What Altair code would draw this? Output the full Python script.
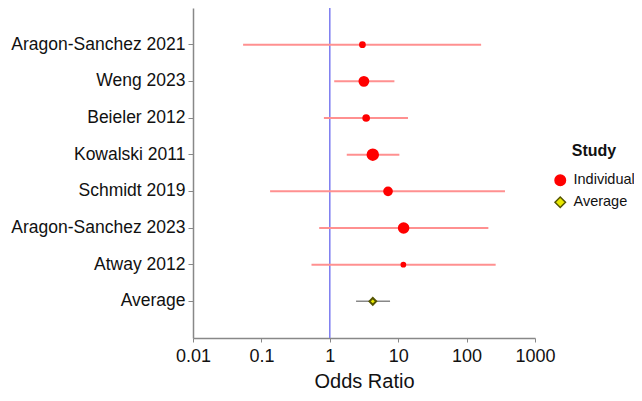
import altair as alt
import pandas as pd

studies = ["Aragon-Sanchez 2021", "Weng 2023", "Beieler 2012", "Kowalski 2011",
           "Schmidt 2019", "Aragon-Sanchez 2023", "Atway 2012", "Average"]
odds_ratio = [3.0, 3.15, 3.4, 4.25, 7.1, 12.0, 11.9, 4.25]
ci_low = [0.054, 1.16, 0.82, 1.77, 0.134, 0.70, 0.54, 2.42]
ci_high = [163, 8.8, 13.9, 10.4, 364, 208, 266, 7.6]
weight = [5, 17, 7, 24, 13, 20, 3, 10]
kind = ["Individual"] * 7 + ["Average"]
x_ticks = [0.01, 0.1, 1, 10, 100, 1000]
null_value = [1]

df = pd.DataFrame({"study": studies, "or": odds_ratio, "lo": ci_low,
                   "hi": ci_high, "weight": weight, "kind": kind})
ref = pd.DataFrame({"x": null_value})

FONT = "Liberation Sans"

xscale = alt.Scale(type="log", domain=[0.01, 1000], nice=False)
yenc = alt.Y("study:N", sort=studies,
             scale=alt.Scale(padding=1),
             axis=alt.Axis(title=None, labelFontSize=17.5, labelColor="#111111",
                           labelFont=FONT, tickSize=5, labelPadding=3,
                           domainColor="#888888", tickColor="#888888",
                           domainWidth=1.5, grid=False))

xaxis = alt.Axis(values=x_ticks, format="~g", title="Odds Ratio",
                 titleFontSize=20, titleFont=FONT, titleFontWeight="normal",
                 titleColor="#111111", titlePadding=6,
                 labelFontSize=18, labelFont=FONT, labelColor="#111111",
                 tickSize=4, labelPadding=5, domainColor="#888888",
                 tickColor="#888888", domainWidth=1.5, grid=False,
                 labelFlush=False)

base = alt.Chart(df)

refline = alt.Chart(ref).mark_rule(color="#7b7bf0", strokeWidth=1.5).encode(
    x=alt.X("x:Q", scale=xscale, axis=xaxis))

ci_ind = base.transform_filter(alt.datum.kind == "Individual").mark_rule(
    color="#ff9090", strokeWidth=2).encode(
    x=alt.X("lo:Q", scale=xscale, axis=xaxis), x2="hi:Q", y=yenc)

ci_avg = base.transform_filter(alt.datum.kind == "Average").mark_rule(
    color="#888888", strokeWidth=1.5).encode(
    x=alt.X("lo:Q", scale=xscale, axis=xaxis), x2="hi:Q", y=yenc)

points = base.mark_point(filled=True, opacity=1).encode(
    x=alt.X("or:Q", scale=xscale, axis=xaxis),
    y=yenc,
    size=alt.Size("weight:Q", scale=alt.Scale(domain=[0, 24], range=[0, 110]),
                  legend=None),
    shape=alt.Shape("kind:N", scale=alt.Scale(domain=["Individual", "Average"],
                                              range=["circle", "diamond"]),
                    title="Study"),
    color=alt.Color("kind:N", scale=alt.Scale(domain=["Individual", "Average"],
                                              range=["#ff0000", "#e8e800"]),
                    title="Study"),
    stroke=alt.Stroke("kind:N", scale=alt.Scale(domain=["Individual", "Average"],
                                                range=["#ff0000", "#555500"]),
                      title="Study"),
)

chart = alt.layer(refline, ci_ind, ci_avg, points).properties(
    width=342, height=330,
    padding={"left": 185, "top": 0, "right": 99, "bottom": 54},
    autosize=alt.AutoSizeParams(type="none"),
).configure_view(stroke=None).configure_legend(
    orient="none", legendX=360, legendY=135,
    titleFontSize=16, titleFont=FONT, titleFontWeight="bold",
    titleColor="#111111", titleAnchor="middle", titlePadding=14,
    labelFontSize=14.5, labelFont=FONT, labelColor="#111111",
    symbolSize=110, rowPadding=5, labelOffset=6,
)

chart.save("out.html", embed_options={"renderer": "svg", "actions": False})
